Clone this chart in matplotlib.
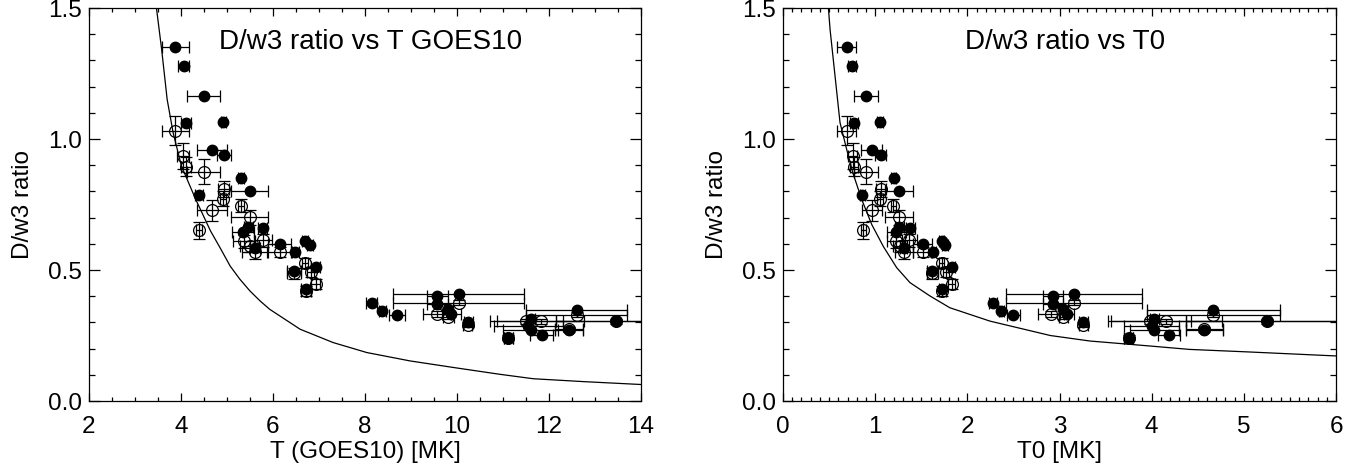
import matplotlib
matplotlib.use("Agg")
import matplotlib.pyplot as plt
from matplotlib.ticker import MultipleLocator, FormatStrFormatter

plt.rcParams['font.family'] = ['Liberation Sans', 'DejaVu Sans']

# ---- filled points: D/w3 ratio, T(GOES10) with error, T0 with error
fill_ratio = [1.35, 1.28, 1.165, 1.062, 1.065, 0.957, 0.94, 0.85, 0.786, 0.80,
              0.664, 0.66, 0.645, 0.599, 0.583, 0.568, 0.609, 0.594, 0.513, 0.497,
              0.429, 0.376, 0.342, 0.33, 0.401, 0.41, 0.372, 0.352, 0.331, 0.301,
              0.241, 0.314, 0.285, 0.27, 0.253, 0.346, 0.27, 0.304]
fill_T = [3.88, 4.06, 4.49, 4.11, 4.92, 4.67, 4.94, 5.30, 4.39, 5.49,
          5.46, 5.78, 5.35, 6.15, 5.61, 6.48, 6.70, 6.80, 6.93, 6.46,
          6.72, 8.15, 8.38, 8.69, 9.57, 10.04, 9.57, 9.81, 9.88, 10.25,
          11.12, 11.60, 11.55, 11.60, 11.84, 12.60, 12.44, 13.45]
fill_Terr = [0.30, 0.12, 0.36, 0.10, 0.06, 0.33, 0.15, 0.06, 0.08, 0.41,
             0.10, 0.10, 0.23, 0.25, 0.10, 0.08, 0.06, 0.06, 0.10, 0.15,
             0.10, 0.12, 0.08, 0.17, 0.23, 1.42, 0.23, 0.10, 0.20, 0.10,
             0.10, 0.10, 0.75, 0.60, 0.25, 1.10, 0.30, 1.30]
fill_T0 = [0.69, 0.75, 0.90, 0.77, 1.05, 0.96, 1.06, 1.20, 0.86, 1.26,
           1.26, 1.38, 1.23, 1.515, 1.31, 1.63, 1.72, 1.76, 1.83, 1.62,
           1.73, 2.28, 2.37, 2.50, 2.93, 3.16, 2.93, 3.04, 3.08, 3.26,
           3.75, 4.03, 4.00, 4.03, 4.19, 4.67, 4.57, 5.25]
fill_T0err = [0.10, 0.04, 0.13, 0.04, 0.03, 0.11, 0.06, 0.03, 0.03, 0.15,
              0.05, 0.05, 0.10, 0.10, 0.04, 0.03, 0.03, 0.03, 0.04, 0.06,
              0.04, 0.04, 0.03, 0.07, 0.11, 0.74, 0.11, 0.05, 0.08, 0.05,
              0.05, 0.05, 0.30, 0.27, 0.12, 0.72, 0.20, 0.88]

# ---- open points
open_ratio = [1.032, 0.935, 0.895, 0.876, 0.651, 0.728, 0.81, 0.773, 0.745, 0.701,
              0.61, 0.614, 0.568, 0.568, 0.526, 0.492, 0.447, 0.42, 0.487, 0.59,
              0.376, 0.332, 0.322, 0.292, 0.241, 0.304, 0.304, 0.33, 0.273, 0.304]
open_rerr = [0.055, 0.05, 0.035, 0.046, 0.033, 0.04, 0.03, 0.03, 0.025, 0.03,
             0.025, 0.025, 0.025, 0.02, 0.02, 0.02, 0.02, 0.02, 0.02, 0.02,
             0.01, 0.01, 0.01, 0.01, 0.01, 0.01, 0.01, 0.01, 0.01, 0.01]
open_T = [3.88, 4.05, 4.11, 4.49, 4.39, 4.67, 4.93, 4.91, 5.30, 5.49,
          5.37, 5.78, 5.61, 6.15, 6.70, 6.82, 6.93, 6.72, 6.45, 5.49,
          10.04, 9.56, 9.81, 10.23, 11.12, 11.51, 11.82, 12.60, 12.44, 13.45]
open_Terr = [0.30, 0.13, 0.10, 0.36, 0.06, 0.33, 0.12, 0.06, 0.06, 0.41,
             0.23, 0.20, 0.28, 0.27, 0.06, 0.08, 0.10, 0.10, 0.15, 0.20,
             1.42, 0.30, 0.12, 0.10, 0.10, 0.80, 0.95, 1.10, 0.30, 1.30]
open_T0 = [0.69, 0.756, 0.77, 0.90, 0.871, 0.962, 1.063, 1.052, 1.196, 1.26,
           1.226, 1.37, 1.312, 1.515, 1.72, 1.77, 1.83, 1.73, 1.62, 1.27,
           3.16, 2.91, 3.04, 3.26, 3.75, 3.98, 4.16, 4.67, 4.57, 5.25]
open_T0err = [0.10, 0.05, 0.04, 0.13, 0.03, 0.11, 0.05, 0.03, 0.03, 0.15,
              0.10, 0.08, 0.10, 0.10, 0.03, 0.03, 0.04, 0.04, 0.06, 0.08,
              0.74, 0.14, 0.05, 0.05, 0.05, 0.45, 0.60, 0.72, 0.20, 0.88]

# ---- model curves
curve_T = [3.46, 3.58, 3.70, 3.83, 4.01, 4.32, 4.64, 4.85, 5.07, 5.28, 5.50,
           5.72, 5.93, 6.59, 7.31, 8.04, 8.98, 9.96, 10.93, 11.66, 12.75, 14.0]
curve_T_r = [1.51, 1.342, 1.151, 1.024, 0.897, 0.77, 0.65, 0.585, 0.515, 0.465, 0.42,
             0.382, 0.35, 0.274, 0.223, 0.185, 0.153, 0.127, 0.102, 0.085, 0.074, 0.063]
curve_T0 = [0.49, 0.51, 0.618, 0.69, 0.763, 0.853, 0.962, 1.088, 1.233, 1.377,
            1.594, 1.81, 2.245, 2.90, 3.33, 3.98, 4.41, 5.07, 6.0]
curve_T0_r = [1.51, 1.419, 1.063, 0.961, 0.865, 0.770, 0.674, 0.590, 0.509, 0.452,
              0.401, 0.356, 0.305, 0.25, 0.229, 0.21, 0.197, 0.187, 0.172]

FS = 17.5

def panel(ax, xf, xferr, xo, xoerr, cx, cy, xlim, xmaj, xmin, xlabel, title):
    # filled points
    ax.errorbar(xf, fill_ratio, xerr=xferr, fmt='o', color='black', mfc='black',
                ms=7.5, elinewidth=0.9, capsize=4, capthick=0.9, zorder=3)
    # open points
    ax.errorbar(xo, open_ratio, xerr=xoerr, yerr=open_rerr, fmt='o', color='black',
                mfc='none', mew=0.9, ms=8.5, elinewidth=0.9, capsize=4,
                capthick=0.9, zorder=4)
    ax.plot(cx, cy, color='black', lw=0.9)

    ax.set_xlim(xlim)
    ax.set_ylim(0, 1.5)
    ax.xaxis.set_major_locator(MultipleLocator(xmaj))
    ax.xaxis.set_minor_locator(MultipleLocator(xmin))
    ax.yaxis.set_major_locator(MultipleLocator(0.5))
    ax.yaxis.set_minor_locator(MultipleLocator(0.1))
    ax.yaxis.set_major_formatter(FormatStrFormatter('%.1f'))
    ax.xaxis.set_major_formatter(FormatStrFormatter('%d'))

    ax.tick_params(axis='both', which='both', direction='in', top=True, right=True,
                   labelsize=FS, width=0.9)
    ax.tick_params(axis='x', which='major', length=6, pad=11)
    ax.tick_params(axis='x', which='minor', length=3)
    ax.tick_params(axis='y', which='major', length=8, pad=5)
    ax.tick_params(axis='y', which='minor', length=4)
    for s in ax.spines.values():
        s.set_linewidth(0.9)

    ax.set_xlabel(xlabel, fontsize=FS, labelpad=2)
    ax.set_ylabel('D/w3 ratio', fontsize=FS, labelpad=10)
    ax.text(0.51, 0.913, title, transform=ax.transAxes, fontsize=20,
            ha='center', va='center')

fig = plt.figure(figsize=(13.48, 4.70), dpi=100)
ax1 = fig.add_axes([0.066, 0.1468, 0.4095, 0.836])
ax2 = fig.add_axes([0.5809, 0.1468, 0.4102, 0.836])

panel(ax1, fill_T, fill_Terr, open_T, open_Terr, curve_T, curve_T_r,
      (2, 14), 2, 0.5, 'T (GOES10) [MK]', 'D/w3 ratio vs T GOES10')
panel(ax2, fill_T0, fill_T0err, open_T0, open_T0err, curve_T0, curve_T0_r,
      (0, 6), 1, 0.1, 'T0 [MK]', 'D/w3 ratio vs T0')

fig.savefig('out.png', dpi=100)
